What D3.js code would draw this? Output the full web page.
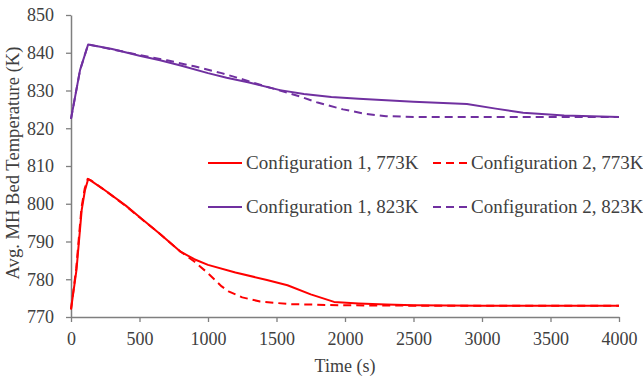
<!DOCTYPE html>
<html>
<head>
<meta charset="utf-8">
<script src="https://cdn.jsdelivr.net/npm/d3@7"></script>
<style>
  html, body { margin: 0; padding: 0; background: #fff; }
  svg { display: block; font-family: "Liberation Serif", "Times New Roman", serif; }
</style>
</head>
<body>
<svg id="chart" width="643" height="381"></svg>
<script>
// Time (s) and average MH bed temperature (K) for each configuration
const c1_773_t = [0, 40, 78, 102, 125, 150, 250, 400, 500, 650, 800, 900, 1000, 1200, 1430, 1580, 1750, 1920, 2100, 2300, 2500, 3000, 3500, 4000];
const c1_773_T = [772, 782.5, 798.3, 803.6, 806.5, 806, 803.5, 799.5, 796.5, 792, 787.3, 785.3, 783.8, 781.8, 779.8, 778.4, 776, 774, 773.6, 773.3, 773.1, 773, 773, 773];

const c2_773_t = [0, 38, 76, 100, 122, 150, 250, 400, 500, 650, 800, 900, 1000, 1100, 1150, 1250, 1380, 1600, 2000, 2500, 3000, 3500, 4000];
const c2_773_T = [772, 782.8, 798.8, 804, 806.6, 806.1, 803.5, 799.4, 796.4, 792, 787.3, 784.7, 781.6, 778.1, 776.8, 775.2, 774.1, 773.4, 773.1, 773, 773, 773, 773];

const c1_823_t = [0, 66, 125, 300, 500, 650, 800, 1000, 1136, 1300, 1525, 1700, 1900, 2100, 2500, 2890, 3100, 3300, 3600, 4000];
const c1_823_T = [822.5, 835.4, 842.2, 841, 839.2, 838, 836.6, 834.6, 833.4, 832.1, 830.1, 829.1, 828.3, 827.8, 827, 826.4, 825.2, 824.1, 823.4, 823];

const c2_823_t = [0, 66, 125, 300, 500, 700, 900, 1100, 1250, 1400, 1525, 1672, 1800, 1986, 2150, 2300, 2500, 3000, 3500, 4000];
const c2_823_T = [822.5, 835.4, 842.2, 840.9, 839.4, 838, 836.4, 834.6, 833, 831.3, 830, 828.4, 826.8, 825, 823.8, 823.2, 823, 823, 823, 823];

const xTicks = [0, 500, 1000, 1500, 2000, 2500, 3000, 3500, 4000];
const yTicks = [770, 780, 790, 800, 810, 820, 830, 840, 850];

const series = [
  { name: "Configuration 1, 773K", t: c1_773_t, T: c1_773_T, color: "#ff0000", dash: null },
  { name: "Configuration 2, 773K", t: c2_773_t, T: c2_773_T, color: "#ff0000", dash: "8,5" },
  { name: "Configuration 1, 823K", t: c1_823_t, T: c1_823_T, color: "#7030a0", dash: null },
  { name: "Configuration 2, 823K", t: c2_823_t, T: c2_823_T, color: "#7030a0", dash: "8,5" }
];

const svg = d3.select("#chart");
const margin = { top: 15, right: 24, bottom: 64, left: 71 };
const W = 643, H = 381;
const iw = W - margin.left - margin.right;
const ih = H - margin.top - margin.bottom;

const x = d3.scaleLinear().domain([0, 4000]).range([margin.left, margin.left + iw]);
const y = d3.scaleLinear().domain([770, 850]).range([margin.top + ih, margin.top]);

const axisColor = "#7f7f7f";
const textColor = "#404040";

// Axes
const gx = svg.append("g")
  .attr("transform", `translate(0,${margin.top + ih})`)
  .call(d3.axisBottom(x).tickValues(xTicks).tickSize(5).tickSizeOuter(0).tickPadding(10).tickFormat(d3.format("d")));
const gy = svg.append("g")
  .attr("transform", `translate(${margin.left},0)`)
  .call(d3.axisLeft(y).tickValues(yTicks).tickSize(5).tickSizeOuter(0).tickPadding(12).tickFormat(d3.format("d")));

[gx, gy].forEach(g => {
  g.select(".domain").attr("stroke", axisColor).attr("stroke-width", 1.5);
  g.selectAll(".tick line").attr("stroke", axisColor).attr("stroke-width", 1.3);
  g.selectAll(".tick text")
    .attr("fill", textColor)
    .style("font-family", "'Liberation Serif', 'Times New Roman', serif")
    .style("font-size", "18px");
});

// Axis titles
svg.append("text")
  .attr("x", margin.left + iw / 2)
  .attr("y", 372)
  .attr("text-anchor", "middle")
  .attr("fill", textColor)
  .style("font-size", "18px")
  .text("Time (s)");

svg.append("text")
  .attr("transform", `translate(19,${margin.top + ih / 2 - 3}) rotate(-90)`)
  .attr("text-anchor", "middle")
  .attr("fill", textColor)
  .style("font-size", "18.6px")
  .text("Avg.  MH Bed Temperature (K)");

// Lines
const line = d3.line().x(d => x(d[0])).y(d => y(d[1]));
series.forEach(s => {
  const pts = s.t.map((t, i) => [t, s.T[i]]);
  svg.append("path")
    .datum(pts)
    .attr("fill", "none")
    .attr("stroke", s.color)
    .attr("stroke-width", 2)
    .attr("stroke-dasharray", s.dash)
    .attr("stroke-linejoin", "round")
    .attr("d", line);
});

// Legend: two columns, two rows
const legendPos = [
  { lx: 208, ly: 163 },
  { lx: 433, ly: 163 },
  { lx: 208, ly: 207 },
  { lx: 433, ly: 207 }
];
series.forEach((s, i) => {
  const p = legendPos[i];
  const g = svg.append("g").attr("transform", `translate(${p.lx},${p.ly})`);
  g.append("line")
    .attr("x1", 0).attr("x2", 34)
    .attr("y1", 0).attr("y2", 0)
    .attr("stroke", s.color)
    .attr("stroke-width", 2)
    .attr("stroke-dasharray", s.dash);
  g.append("text")
    .attr("x", 38)
    .attr("y", 6)
    .attr("fill", textColor)
    .style("font-size", "19px")
    .text(s.name);
});
</script>
</body>
</html>
